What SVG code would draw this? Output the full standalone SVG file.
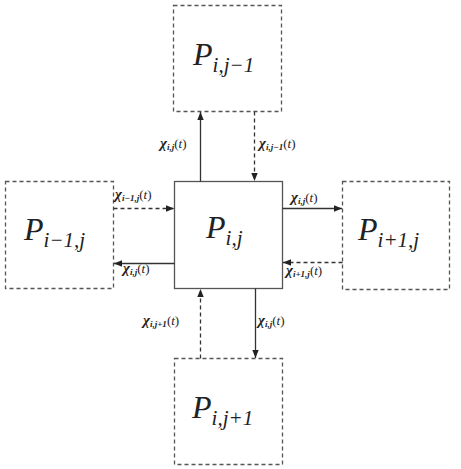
<svg xmlns="http://www.w3.org/2000/svg" width="461" height="469" viewBox="0 0 461 469">
<style>
.box{fill:#fff;stroke:#555;stroke-width:1.3}
.dbox{fill:#fff;stroke:#555;stroke-width:1.3;stroke-dasharray:4,3}
.ln{fill:none;stroke:#333;stroke-width:1.3}
.dl{fill:none;stroke:#333;stroke-width:1.3;stroke-dasharray:4,3}
.P{font-style:italic;font-size:32px;fill:#222}
.ps{font-size:21px}
.c{font-size:13px;fill:#222}
.chi{font-weight:bold;font-style:italic;font-size:15px}
.cs{font-style:italic;font-size:9px;font-weight:bold}
.t{font-style:italic}
</style>
<defs>
<marker id="ah" viewBox="0 0 10 8" refX="10" refY="4" markerWidth="8" markerHeight="6.4" markerUnits="userSpaceOnUse" orient="auto">
<path d="M0,0 L10,4 L0,8 z" fill="#222"/>
</marker>
</defs>
<g font-family="Liberation Serif, serif">
<g id="n-top"><rect class="dbox" x="173.5" y="5.5" width="108" height="106"/>
<text class="P" x="193" y="65">P<tspan class="ps" dy="7">i,j−1</tspan></text></g>
<g id="n-left"><rect class="dbox" x="5.5" y="181.5" width="108" height="107"/>
<text class="P" x="24" y="240">P<tspan class="ps" dy="7">i−1,j</tspan></text></g>
<g id="n-center"><rect class="box" x="174.5" y="181.5" width="108" height="107"/>
<text class="P" x="206" y="238">P<tspan class="ps" dy="7">i,j</tspan></text></g>
<g id="n-right"><rect class="dbox" x="342.5" y="181.5" width="107" height="108"/>
<text class="P" x="358" y="240">P<tspan class="ps" dy="7">i+1,j</tspan></text></g>
<g id="n-bottom"><rect class="dbox" x="174.5" y="358.5" width="108" height="106"/>
<text class="P" x="192" y="418">P<tspan class="ps" dy="7">i,j+1</tspan></text></g>
<g id="connectors">
<line class="ln" x1="200.5" y1="181.5" x2="200.5" y2="112" marker-end="url(#ah)"/>
<line class="dl" x1="254.5" y1="111.5" x2="254.5" y2="181" marker-end="url(#ah)"/>
<line class="dl" x1="113.5" y1="208.5" x2="174" y2="208.5" marker-end="url(#ah)"/>
<line class="ln" x1="174.5" y1="263.5" x2="114" y2="263.5" marker-end="url(#ah)"/>
<line class="ln" x1="282.5" y1="208.5" x2="342" y2="208.5" marker-end="url(#ah)"/>
<line class="dl" x1="342.5" y1="262.5" x2="283" y2="262.5" marker-end="url(#ah)"/>
<line class="dl" x1="200.5" y1="358.5" x2="200.5" y2="289" marker-end="url(#ah)"/>
<line class="ln" x1="255.5" y1="288.5" x2="255.5" y2="358" marker-end="url(#ah)"/>
</g>
<g id="labels">
<text class="c" x="160" y="148"><tspan class="chi">χ</tspan><tspan class="cs" dy="2">i,j</tspan><tspan dy="-2">(</tspan><tspan class="t">t</tspan>)</text>
<text class="c" x="259" y="148"><tspan class="chi">χ</tspan><tspan class="cs" dy="2">i,j−1</tspan><tspan dy="-2">(</tspan><tspan class="t">t</tspan>)</text>
<text class="c" x="115" y="199"><tspan class="chi">χ</tspan><tspan class="cs" dy="2">i−1,j</tspan><tspan dy="-2">(</tspan><tspan class="t">t</tspan>)</text>
<text class="c" x="123" y="273"><tspan class="chi">χ</tspan><tspan class="cs" dy="2">i,j</tspan><tspan dy="-2">(</tspan><tspan class="t">t</tspan>)</text>
<text class="c" x="291" y="202"><tspan class="chi">χ</tspan><tspan class="cs" dy="2">i,j</tspan><tspan dy="-2">(</tspan><tspan class="t">t</tspan>)</text>
<text class="c" x="286" y="275"><tspan class="chi">χ</tspan><tspan class="cs" dy="2">i+1,j</tspan><tspan dy="-2">(</tspan><tspan class="t">t</tspan>)</text>
<text class="c" x="143" y="325"><tspan class="chi">χ</tspan><tspan class="cs" dy="2">i,j+1</tspan><tspan dy="-2">(</tspan><tspan class="t">t</tspan>)</text>
<text class="c" x="258" y="325"><tspan class="chi">χ</tspan><tspan class="cs" dy="2">i,j</tspan><tspan dy="-2">(</tspan><tspan class="t">t</tspan>)</text>
</g>
</g>
</svg>
